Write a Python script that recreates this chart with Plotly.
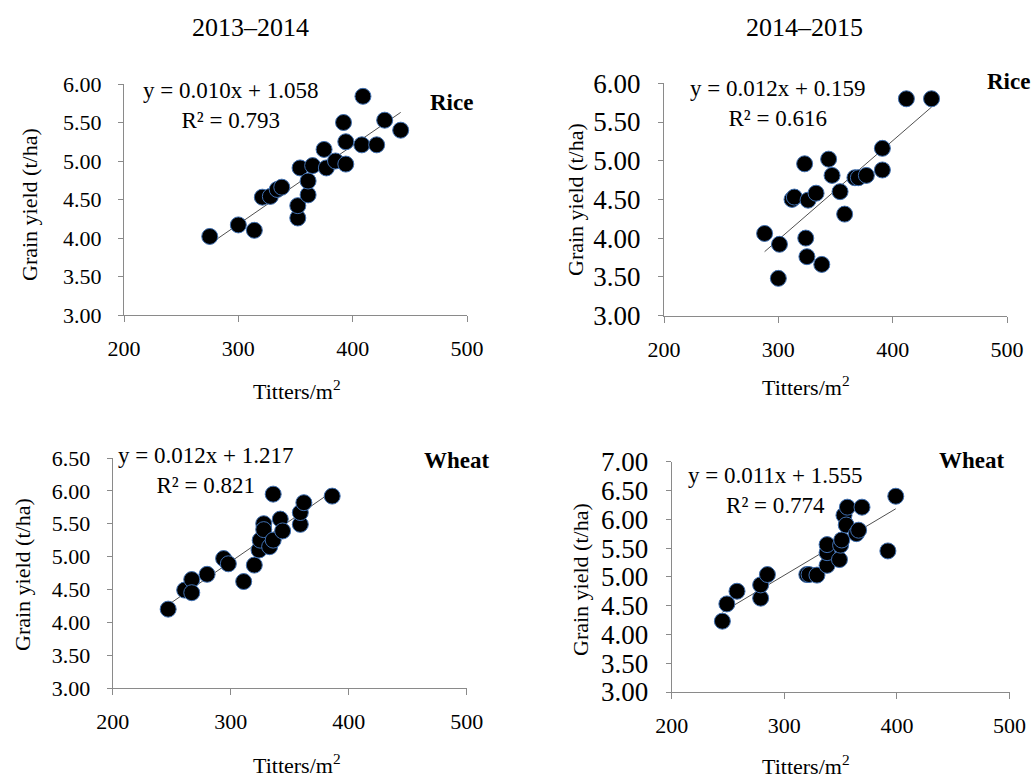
import numpy as np
import plotly.graph_objects as go

# ---------------- data ----------------
seasons = ["2013–2014", "2014–2015"]
crops = ["Rice", "Wheat"]

rice_1314_x = [275, 300, 314, 321, 328, 334, 338, 352, 352, 354, 361, 361, 365, 375, 377, 385, 392, 394, 394, 408, 409, 421, 428, 442]
rice_1314_y = [4.02, 4.17, 4.10, 4.53, 4.54, 4.63, 4.66, 4.26, 4.42, 4.91, 4.56, 4.74, 4.94, 5.15, 4.91, 5.00, 5.50, 5.25, 4.96, 5.21, 5.84, 5.21, 5.53, 5.40]

rice_1415_x = [288, 301, 300, 312, 314, 323, 324, 325, 326, 333, 338, 344, 347, 354, 358, 367, 370, 377, 391, 391, 412, 434]
rice_1415_y = [4.06, 3.92, 3.48, 4.50, 4.53, 4.96, 4.00, 3.76, 4.49, 4.58, 3.66, 5.02, 4.81, 4.60, 4.31, 4.78, 4.78, 4.81, 5.16, 4.88, 5.80, 5.80]

wheat_1314_x = [247, 261, 267, 267, 280, 294, 298, 311, 320, 324, 325, 328, 328, 333, 336, 336, 342, 344, 359, 359, 362, 386]
wheat_1314_y = [4.20, 4.49, 4.65, 4.45, 4.73, 4.97, 4.89, 4.62, 4.87, 5.10, 5.25, 5.50, 5.41, 5.15, 5.25, 5.95, 5.57, 5.39, 5.49, 5.67, 5.82, 5.92]

wheat_1415_x = [245, 249, 258, 279, 279, 285, 320, 322, 329, 338, 338, 338, 349, 350, 351, 353, 355, 356, 364, 366, 369, 392, 399]
wheat_1415_y = [4.23, 4.53, 4.75, 4.63, 4.86, 5.04, 5.04, 5.04, 5.03, 5.20, 5.42, 5.56, 5.30, 5.55, 5.64, 6.07, 5.90, 6.21, 5.75, 5.81, 6.21, 5.45, 6.40]

equations = ["y = 0.010x + 1.058", "y = 0.012x + 0.159", "y = 0.012x + 1.217", "y = 0.011x + 1.555"]
r2_labels = ["R² = 0.793", "R² = 0.616", "R² = 0.821", "R² = 0.774"]
panel_crops = ["Rice", "Rice", "Wheat", "Wheat"]

x_ticks = [200, 300, 400, 500]
y_ranges = [(3.0, 6.0), (3.0, 6.0), (3.0, 6.5), (3.0, 7.0)]
x_title = "Titters/m<sup>2</sup>"
y_title = "Grain yield (t/ha)"

# ---------------- layout helpers ----------------
W, H = 1032, 780
FONT = "Liberation Serif, Times New Roman, serif"


def px(x):
    return x / W


def py(y):
    return 1 - y / H


panels = [
    dict(x=rice_1314_x, y=rice_1314_y, dom_x=(124, 467), dom_y=(84, 315)),
    dict(x=rice_1415_x, y=rice_1415_y, dom_x=(664, 1007), dom_y=(83.3, 315.5)),
    dict(x=wheat_1314_x, y=wheat_1314_y, dom_x=(112.7, 466.7), dom_y=(458, 688)),
    dict(x=wheat_1415_x, y=wheat_1415_y, dom_x=(671.7, 1009.5), dom_y=(461.7, 692)),
]

fig = go.Figure()
layout = dict(
    template="none",
    width=W, height=H,
    margin=dict(l=0, r=0, t=0, b=0, pad=0, autoexpand=False),
    paper_bgcolor="white", plot_bgcolor="white",
    showlegend=False,
    font=dict(family=FONT, color="black"),
)

ytick_font = [22, 27, 22, 27]

for i, p in enumerate(panels):
    k = "" if i == 0 else str(i + 1)
    xa, ya = "x" + k, "y" + k
    xs = np.array(p["x"], dtype=float)
    ys = np.array(p["y"], dtype=float)
    slope, icpt = np.polyfit(xs, ys, 1)
    lx = np.array([xs.min(), xs.max()])
    fig.add_trace(go.Scatter(x=lx, y=slope * lx + icpt, mode="lines",
                             line=dict(color="#505050", width=1),
                             xaxis=xa, yaxis=ya, hoverinfo="skip"))
    fig.add_trace(go.Scatter(x=xs, y=ys, mode="markers",
                             marker=dict(size=16, color="black",
                                         line=dict(color="#3f6fb0", width=1)),
                             xaxis=xa, yaxis=ya))
    ax_common = dict(showgrid=False, zeroline=False, showline=True, automargin=False,
                     linecolor="#8a8a8a", linewidth=1, ticks="outside",
                     tickcolor="#8a8a8a", tickwidth=1)
    layout["xaxis" + k] = dict(
        ax_common, domain=[px(p["dom_x"][0]), px(p["dom_x"][1])],
        anchor=ya, range=[200, 500], tickvals=x_ticks, ticklen=6,
        tickfont=dict(size=22, family=FONT), ticklabelstandoff=8)
    y0, y1 = y_ranges[i]
    layout["yaxis" + k] = dict(
        ax_common, domain=[py(p["dom_y"][1]), py(p["dom_y"][0])],
        anchor=xa, range=[y0, y1], dtick=0.5, tick0=3, tickformat=".2f",
        ticklen=5, tickfont=dict(size=ytick_font[i], family=FONT),
        ticklabelstandoff=12)

fig.update_layout(**layout)

ann = []
# season titles
for s, cx in zip(seasons, [250, 804]):
    ann.append(dict(x=px(cx), y=py(28), text=s, showarrow=False,
                    xref="paper", yref="paper", xanchor="center", yanchor="middle",
                    font=dict(size=26, family=FONT)))
# equations
eq_pos = [(230, 106), (777, 104), (205, 470), (775, 490)]
for (cx, cy), e, r in zip(eq_pos, equations, r2_labels):
    ann.append(dict(x=px(cx), y=py(cy), text=e + "<br>" + r, showarrow=False,
                    xref="paper", yref="paper", xanchor="center", yanchor="middle",
                    align="center", font=dict(size=23, family=FONT)))
# crop labels
crop_pos = [(428, 103, "left"), (1032, 82, "right"), (422, 460, "left"), (937, 460, "left")]
for (lx_, cy, anc), c in zip(crop_pos, panel_crops):
    ann.append(dict(x=px(lx_), y=py(cy), text="<b>" + c + "</b>", showarrow=False,
                    xref="paper", yref="paper", xanchor=anc, yanchor="middle",
                    font=dict(size=23, family=FONT)))
# axis titles
xt_pos = [(297, 390), (806, 386), (297, 764), (806, 765)]
for cx, cy in xt_pos:
    ann.append(dict(x=px(cx), y=py(cy), text=x_title, showarrow=False,
                    xref="paper", yref="paper", xanchor="center", yanchor="middle",
                    font=dict(size=22, family=FONT)))
yt_pos = [(30, 205), (576, 200), (22, 575), (580, 580)]
for cx, cy in yt_pos:
    ann.append(dict(x=px(cx), y=py(cy), text=y_title, showarrow=False, textangle=-90,
                    xref="paper", yref="paper", xanchor="center", yanchor="middle",
                    font=dict(size=22, family=FONT)))

fig.update_layout(annotations=ann)
fig.write_html("out.html", config={"displayModeBar": False},
               post_script="document.body.style.margin='0';document.body.style.overflow='hidden';")
